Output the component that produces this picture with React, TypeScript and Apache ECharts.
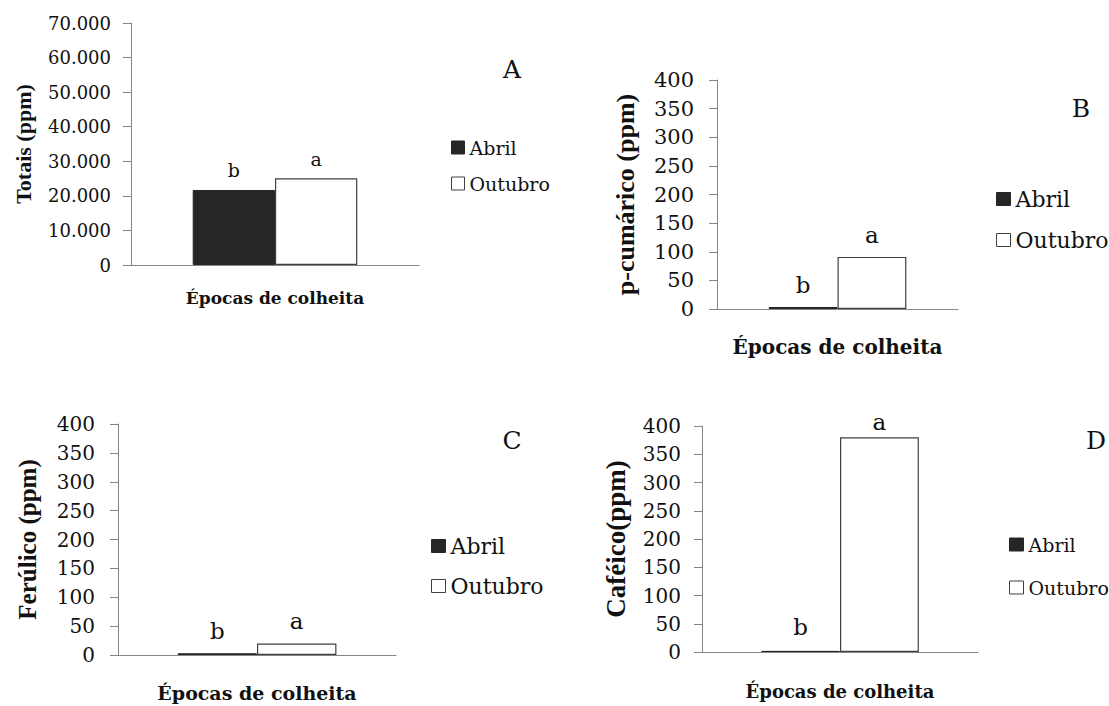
import React, { useEffect, useRef } from "react";
import * as echarts from "echarts";

// Harvest seasons (one bar each per panel)
const seasons = ["Abril", "Outubro"];
const panelLetters = ["A", "B", "C", "D"];
const yTitles = ["Totais (ppm)", "p-cumárico (ppm)", "Ferúlico (ppm)", "Caféico(ppm)"];
const xTitle = "Épocas de colheita";

// Phenolic contents (ppm), [Abril, Outubro]
const totais = [21700, 25100];
const pCumarico = [3.5, 91];
const ferulico = [3, 20];
const cafeico = [2, 380];

// Mean separation letters, [Abril, Outubro]
const lettersTotais = ["b", "a"];
const lettersPCumarico = ["b", "a"];
const lettersFerulico = ["b", "a"];
const lettersCafeico = ["b", "a"];

// Value axis ranges
const yMax = [70000, 400, 400, 400];
const yStep = [10000, 50, 50, 50];

const panelValues = [totais, pCumarico, ferulico, cafeico];
const panelLettersList = [lettersTotais, lettersPCumarico, lettersFerulico, lettersCafeico];

const SERIF = "DejaVu Serif";
const TIMES = "Liberation Serif";
const AXIS_GRAY = "#868686";
const INK = "#111111";

// Geometry of each panel
const layout = [
  {
    grid: { left: 131, top: 23, width: 288, height: 242 },
    tickFont: 18, tickMargin: 20,
    yNameFont: 22, yNameGap: 97,
    xNameFont: 17, xNameGap: 24,
    legend: { left: 451, top: 138, font: 19, w: 13, h: 13, gap: 17 },
    letter: { x: 512, y: 69 },
    labelFont: 19, labelDist: [10, 10],
  },
  {
    grid: { left: 717, top: 80, width: 241, height: 229 },
    tickFont: 21, tickMargin: 23,
    yNameFont: 26, yNameGap: 79,
    xNameFont: 20, xNameGap: 28,
    legend: { left: 996, top: 188, font: 22, w: 14, h: 13, gap: 19 },
    letter: { x: 1081, y: 108 },
    labelFont: 23, labelDist: [10, 10],
  },
  {
    grid: { left: 118, top: 424, width: 278, height: 231 },
    tickFont: 20, tickMargin: 23,
    yNameFont: 25, yNameGap: 78,
    xNameFont: 19, xNameGap: 28,
    legend: { left: 431, top: 535, font: 22, w: 14, h: 13, gap: 18 },
    letter: { x: 512, y: 440 },
    labelFont: 23, labelDist: [11, 11],
  },
  {
    grid: { left: 702, top: 426, width: 276, height: 226 },
    tickFont: 20, tickMargin: 21,
    yNameFont: 27, yNameGap: 73,
    xNameFont: 18, xNameGap: 30,
    legend: { left: 1009, top: 535, font: 19, w: 14, h: 13, gap: 24 },
    letter: { x: 1096, y: 440 },
    labelFont: 23, labelDist: [12, 4],
  },
];

const seasonStyles = [
  { color: "#262626", borderColor: "#262626", borderWidth: 1 },
  { color: "#ffffff", borderColor: "#404040", borderWidth: 1.2 },
];

function formatThousands(v: number): string {
  return String(v).replace(/\B(?=(\d{3})+(?!\d))/g, ".");
}

function buildOption() {
  const grids = layout.map((l) => ({ ...l.grid, containLabel: false }));

  const xAxes = layout.map((l, i) => ({
    type: "category",
    gridIndex: i,
    data: [""],
    axisLine: { show: true, lineStyle: { color: AXIS_GRAY, width: 1 } },
    axisTick: { show: false },
    axisLabel: { show: false },
    splitLine: { show: false },
    name: xTitle,
    nameLocation: "middle",
    nameGap: l.xNameGap,
    nameTextStyle: { fontFamily: SERIF, fontWeight: "bold", fontSize: l.xNameFont, color: INK },
  }));

  const yAxes = layout.map((l, i) => ({
    type: "value",
    gridIndex: i,
    min: 0,
    max: yMax[i],
    interval: yStep[i],
    axisLine: { show: true, lineStyle: { color: AXIS_GRAY, width: 1 } },
    axisTick: { show: true, inside: false, length: 8, lineStyle: { color: AXIS_GRAY } },
    splitLine: { show: false },
    axisLabel: {
      fontFamily: SERIF,
      fontSize: l.tickFont,
      color: INK,
      margin: l.tickMargin,
      formatter: (v: number) => (i === 0 ? formatThousands(v) : String(v)),
    },
    name: yTitles[i],
    nameLocation: "middle",
    nameRotate: 90,
    nameGap: l.yNameGap,
    nameTextStyle: { fontFamily: TIMES, fontWeight: "bold", fontSize: l.yNameFont, color: INK },
  }));

  const series: any[] = [];
  layout.forEach((l, i) => {
    seasons.forEach((season, s) => {
      series.push({
        type: "bar",
        name: season,
        xAxisIndex: i,
        yAxisIndex: i,
        barGap: "0%",
        barCategoryGap: "42.857%",
        itemStyle: seasonStyles[s],
        data: [panelValues[i][s]],
        label: {
          show: true,
          position: "top",
          distance: l.labelDist[s],
          fontFamily: SERIF,
          fontSize: l.labelFont,
          color: INK,
          formatter: () => panelLettersList[i][s],
        },
      });
    });
  });

  const legends = layout.map((l) => ({
    data: seasons,
    orient: "vertical",
    left: l.legend.left,
    top: l.legend.top,
    padding: 0,
    itemWidth: l.legend.w,
    itemHeight: l.legend.h,
    itemGap: l.legend.gap,
    icon: "rect",
    selectedMode: false,
    itemStyle: { borderWidth: 1 },
    textStyle: { fontFamily: SERIF, fontSize: l.legend.font, color: INK },
  }));

  const letters = layout.map((l, i) => ({
    type: "text",
    x: l.letter.x,
    y: l.letter.y,
    style: {
      text: panelLetters[i],
      fontFamily: SERIF,
      fontSize: 25,
      fill: INK,
      textAlign: "center",
      textVerticalAlign: "middle",
    },
  }));

  return {
    animation: false,
    backgroundColor: "#ffffff",
    grid: grids,
    xAxis: xAxes,
    yAxis: yAxes,
    legend: legends,
    series,
    graphic: letters,
  };
}

export default function App() {
  const ref = useRef<HTMLDivElement>(null);

  useEffect(() => {
    if (!ref.current) return;
    const chart = echarts.init(ref.current, undefined, { renderer: "svg" });
    chart.setOption(buildOption() as any);
    return () => chart.dispose();
  }, []);

  return (
    <div
      ref={ref}
      style={{ position: "absolute", left: 0, top: 0, width: 1109, height: 706, background: "#fff" }}
    />
  );
}
